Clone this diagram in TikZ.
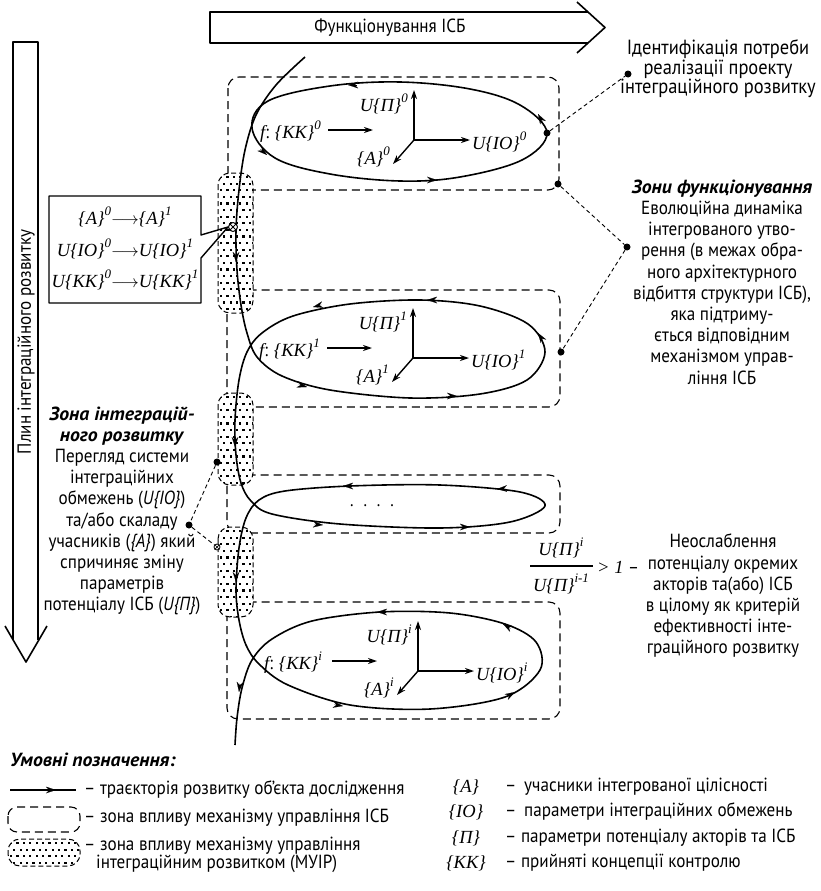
\documentclass[tikz,border=0pt]{standalone}
\usepackage{fontspec}
\setmainfont{PT Sans}[FakeStretch=0.9, BoldItalicFeatures={FakeStretch=1.04}]
\newfontfamily\mth{Liberation Serif}
\usetikzlibrary{arrows.meta}
% formula helpers
\newcommand\fx[1]{{\mth\itshape #1}}
\newcommand\sps[1]{\raisebox{0.5em}{\fontsize{13}{13}\selectfont\mth\itshape #1}}
% arrowhead placed on a curve: tip at (#1,#2), direction (#3,#4)
\newcommand\tipat[4]{\draw[trajtip] ({#1-9*(#3)},{#2-9*(#4)}) -- (#1,#2);}
% dotted zone of the integration-control mechanism
\newcommand\muir[5]{%
  \begin{scope}
    \path[clip, rounded corners=12pt] (#1,#2) rectangle (#3,#4);
    \fill[white] (#1,#2) rectangle (#3,#4);
    \foreach \i in {0,...,24}{\foreach \j in {0,...,12}{
      \fill ({#1+2+\j*6.4+mod(\i,2)*3.2},{#2+3+\i*6.6}) rectangle ++(2.1,2.1);}}
  \end{scope}
  \draw[muirline] (#1,#2) rectangle (#3,#4);
  \coordinate (#5) at ({(#1+#3)/2},{(#2+#4)/2});}
% axes and labels inside one functioning loop
\newcommand\loopaxes[3]{%
  \coordinate (O#3) at (#1,#2);
  \draw[axisl] (O#3) -- ++(0,-50);
  \draw[axisl] (O#3) -- ++(56,0);
  \draw[axisl] (O#3) -- ++(-21,24);
  \draw[axisl] ([shift={(-86,-10)}]O#3) -- ++(45,0);
  \node[fm, anchor=east] (P#3) at ([shift={(-6,-36)}]O#3) {\fx{U\{Π\}}\sps{#3}};
  \node[fm, anchor=west] (F#3) at ([shift={(-154,-8)}]O#3) {\fx{f}: \fx{\{KK\}}\sps{#3}};
  \node[fm, anchor=east] (A#3) at ([shift={(-24,17)}]O#3) {\fx{\{A\}}\sps{#3}};
  \node[fm, anchor=west] (I#3) at ([shift={(58,2)}]O#3) {\fx{U\{IO\}}\sps{#3}};}
\begin{document}
\begin{tikzpicture}[x=1pt, y=-1pt, line join=round,
  txt/.style={font=\fontsize{19}{21.2}\selectfont, inner sep=0, align=center},
  fm/.style={font=\fontsize{18.5}{20}\selectfont, inner sep=0},
  lg/.style={font=\fontsize{19}{20}\selectfont, inner sep=0},
  zone/.style={draw, dash pattern=on 8pt off 5pt, line width=1.1pt, rounded corners=11pt},
  muirline/.style={draw, dash pattern=on 5pt off 3pt, line width=1pt, rounded corners=12pt},
  traj/.style={line width=1.6pt},
  trajtip/.style={line width=0.1pt, -{Stealth[length=10pt,width=6.5pt]}},
  axisl/.style={line width=1.4pt, -{Stealth[length=9pt,width=6pt]}},
  link/.style={line width=0.9pt, dash pattern=on 4pt off 3pt},
  pin/.style={circle, fill, inner sep=0, minimum size=7pt},
  bigarrow/.style={line width=1.6pt}]
\useasboundingbox (0,0) rectangle (820,891);

% ---- large flow arrows ----
\draw[bigarrow] (588,12) -- (210,12) -- (210,43) -- (588,43);
\draw[bigarrow] (577,2) -- (605,27.5) -- (577,53);
\node[txt] (func) at (390,28) {Функціонування ІСБ};

\draw[bigarrow] (13,640) -- (13,42) -- (38,42) -- (38,640);
\draw[bigarrow] (5,626) -- (26,662) -- (47,626);
\node[txt, rotate=90] (flow) at (26,342) {Плин інтеграційного розвитку};

% ---- zones of functioning ----
\draw[zone] (228,77) rectangle (559,190);
\draw[zone] (227,290) rectangle (560,407);
\draw[zone] (227,475) rectangle (560,533);
\draw[zone] (227,602) rectangle (560,719);

% ---- zones of integration development ----
\muir{218}{173}{253}{313}{mA}
\muir{218}{393}{253}{485}{mB}
\muir{218}{527}{253}{617}{mC}

% ---- loop of the initial state ----
\draw[traj] plot[smooth cycle, tension=0.6] coordinates {(252,128) (268,101) (330,86) (400,82) (470,89) (520,105) (547,133) (522,160) (460,177) (400,181) (330,174) (275,158)};
% ---- development trajectory ----
\draw[traj] plot[smooth, tension=0.55] coordinates {
 (305,57) (276,85) (256,115) (245,150) (239,190) (236,230) (237,270) (241,305)
 (247,333) (257,357) (282,376) (330,390) (410,398) (480,394) (527,380) (545,352)
 (528,324) (480,306) (420,300) (350,304) (293,316) (262,333) (247,352) (239,380)
 (235,420) (236,455) (241,483) (251,501) (272,514) (340,524) (440,528) (510,522)
 (545,506) (520,492) (440,485) (350,486) (285,491) (259,500) (246,518) (239,548)
 (236,590) (239,620) (246,645) (259,664) (288,685) (350,705) (430,709) (505,697)
 (540,670) (536,642) (505,624) (450,613) (380,612) (312,621) (272,639) (252,660)
 (242,688) (237,718) (235,745)};

% arrowheads along the trajectory
\tipat{348}{85}{-1}{0}
\tipat{267}{155}{0.75}{0.66}
\tipat{437}{180}{1}{0}
\tipat{538}{114}{-0.5}{-0.87}
\tipat{236}{262}{0}{1}
\tipat{313}{307}{-0.97}{0.24}
\tipat{427}{300}{-1}{0}
\tipat{538}{333}{-0.55}{-0.83}
\tipat{307}{387}{0.96}{0.27}
\tipat{457}{396}{1}{0}
\tipat{235}{447}{0}{1}
\tipat{343}{486}{-1}{0}
\tipat{497}{489}{-1}{0.05}
\tipat{323}{525}{1}{0.08}
\tipat{470}{527}{1}{0}
\tipat{236}{582}{0}{1}
\tipat{377}{612}{-1}{0}
\tipat{503}{624}{-0.87}{-0.5}
\tipat{343}{706}{0.98}{0.15}
\tipat{515}{692}{0.87}{-0.5}
\tipat{239}{692}{-0.1}{1}

% ---- axes and labels inside the loops ----
\loopaxes{414}{140}{0}
\loopaxes{413}{358}{1}
\loopaxes{418}{671}{i}
\node[font=\fontsize{18}{20}\selectfont, inner sep=0] (dots) at (372,506) {.\hspace{10pt}.\hspace{10pt}.\hspace{10pt}.};

% ---- transition callout ----
\node[circle, draw, fill=white, line width=1pt, inner sep=0, minimum size=9pt] (cx) at (233,227) {};
\draw[line width=1pt] (cx.45) -- (cx.225) (cx.135) -- (cx.315);
\draw[line width=1.4pt] (cx.west) -- (201,235) -- (201,196) -- (49,196) -- (49,303) -- (201,303) -- (201,258) -- (cx.west);
\node[fm] (t1) at (125,217) {\fx{\{A\}}\sps{0}$\longrightarrow$\fx{\{A\}}\sps{1}};
\node[fm] (t2) at (125,249) {\fx{U\{IO\}}\sps{0}$\longrightarrow$\fx{U\{IO\}}\sps{1}};
\node[fm] (t3) at (125,280) {\fx{U\{KK\}}\sps{0}$\longrightarrow$\fx{U\{KK\}}\sps{1}};

% ---- right-hand notes ----
\node[txt, font=\fontsize{20.5}{19.5}\selectfont] (note1) at (718,69) {Ідентифікація потреби\\реалізації проекту\\інтеграційного розвитку};
\node[pin] (d1a) at (547,133) {};
\node[pin] (d1b) at (628,74) {};
\draw[link] (d1a) -- (d1b);

\node[txt] (note2) at (722,282) {\textbf{\textit{Зони функціонування}}\\Еволюційна динаміка\\інтегрованого утво-\\рення (в межах обра-\\ного архітектурного\\відбиття структури ІСБ),\\яка підтриму-\\ється відповідним\\механізмом управ-\\ління ІСБ};
\node[pin] (d2a) at (558,184) {};
\node[pin] (d2b) at (627,247) {};
\node[pin] (d2c) at (561,352) {};
\draw[link] (d2a) -- (d2b) -- (d2c);

\node[fm] (num) at (561,548) {\fx{U\{Π\}}\sps{i}};
\node[fm] (den) at (561,584) {\fx{U\{Π\}}\sps{i-1}};
\coordinate (barL) at (530,566);
\coordinate (barR) at (593,566);
\draw[line width=1.1pt] (barL) -- (barR);
\node[fm, anchor=west] (gt) at (597,567) {\fx{> 1} –};
\node[txt] (note3) at (723,596) {Неослаблення\\потенціалу окремих\\акторів та(або) ІСБ\\в цілому як критерій\\ефективності інте-\\граційного розвитку};

% ---- left-hand note ----
\node[txt] (note4) at (122,511) {\textbf{\textit{Зона інтеграцій-}}\\\textbf{\textit{ного розвитку}}\\Перегляд системи\\інтеграційних\\обмежень (\textit{U\{IO\}})\\та/або скаладу\\учасників (\textit{\{A\}}) який\\спричиняє зміну\\параметрів\\потенціалу ІСБ (\textit{U\{П\}})};
\node[pin] (d4a) at (189,525) {};
\node[pin] (d4b) at (217,462) {};
\node[circle, draw, fill=white, line width=0.8pt, inner sep=0, minimum size=6pt] (d4c) at (217,547) {};
\draw[line width=0.7pt] (d4c.45) -- (d4c.225) (d4c.135) -- (d4c.315);
\draw[link] (d4b) -- (d4a) -- (d4c);

% ---- legend ----
\node[lg, font=\fontsize{19}{20}\selectfont\bfseries\itshape, anchor=west] (legend) at (10,760) {Умовні позначення:};
\coordinate (lg1a) at (10,790);
\coordinate (lg1b) at (76,790);
\draw[traj] (lg1a) -- (lg1b);
\tipat{56}{790}{1}{0}
\node[lg, anchor=west] (lt1) at (84,790) {– траєкторія розвитку об'єкта дослідження};
\draw[zone, rounded corners=9pt] (8,807) rectangle (80,832);
\node[lg, anchor=west] (lt2) at (84,818) {– зона впливу механізму управління ІСБ};
\muir{8}{839}{80}{866}{mL}
\node[lg, anchor=west] (lt3) at (84,846) {– зона впливу механізму управління};
\node[lg, anchor=west] (lt3b) at (96,864) {інтеграційним розвитком (МУІР)};

\node[fm] (sA) at (466,787) {\fx{\{A\}}};
\node[fm] (sIO) at (466,812) {\fx{\{IO\}}};
\node[fm] (sP) at (466,838) {\fx{\{Π\}}};
\node[fm] (sK) at (466,863) {\fx{\{KK\}}};
\node[lg, anchor=west] (rA) at (505,787) {–\, учасники інтегрованої цілісності};
\node[lg, anchor=west] (rIO) at (505,812) {–\, параметри інтеграційних обмежень};
\node[lg, anchor=west] (rP) at (505,838) {– параметри потенціалу акторів та ІСБ};
\node[lg, anchor=west] (rK) at (505,863) {– прийняті концепції контролю};
\end{tikzpicture}
\end{document}
